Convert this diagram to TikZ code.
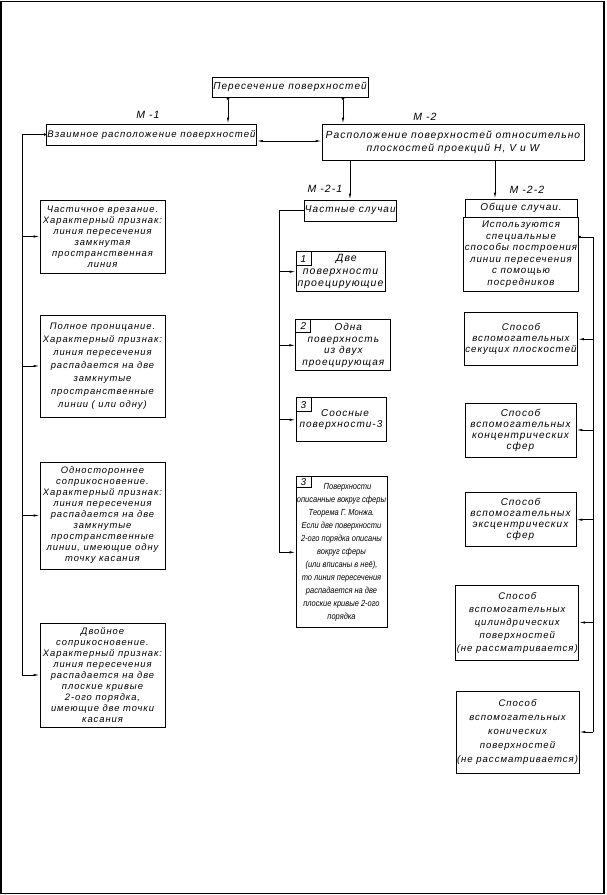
\documentclass[tikz,border=0pt]{standalone}
\usepackage{fontspec}
\setmainfont{Liberation Sans}[LetterSpace=10]
\usetikzlibrary{arrows.meta,calc}
\newcommand{\fsz}[2]{\itshape\fontsize{#1}{#2}\selectfont}
\begin{document}
\begin{tikzpicture}[x=1pt,y=-1pt,
  box/.style={draw, line width=0.8pt, inner sep=1pt, align=center, font=\fsz{10}{11}},
  lbox/.style={box, minimum width=125pt, font=\fsz{9.4}{11}},
  numcell/.style={draw, line width=0.8pt, inner sep=0pt, anchor=north west, minimum width=15pt, minimum height=14pt, font=\fsz{10}{11}},
  arr/.style={-{Latex[length=6pt,width=2.4pt]}, line width=0.8pt},
  dblarr/.style={{Latex[length=6pt,width=2.4pt]}-{Latex[length=6pt,width=2.4pt]}, line width=0.8pt},
  dotarr/.style={{Circle[length=2.6pt]}-{Latex[length=6pt,width=2.4pt]}, line width=0.8pt},
  dotline/.style={{Circle[length=2.6pt]}-, line width=0.8pt},
  trunk/.style={line width=0.8pt},
  lbl/.style={font=\fsz{10.5}{12}}
]
\useasboundingbox (0,0) rectangle (606,895);
\draw[line width=1.6pt] (1,1.5) rectangle (604.2,893.3);

% top level
\node[box, minimum width=156pt, minimum height=20pt] (title) at (290,87) {Пересечение поверхностей};
\node[box, minimum width=209pt, minimum height=21pt, font=\fsz{9.6}{11}] (a1) at (151.5,134.5) {Взаимное расположение поверхностей};
\node[box, minimum width=262pt, minimum height=36pt, font=\fsz{10.3}{13}] (a2) at (453,142) {Расположение поверхностей относительно\\плоскостей проекций  Н,  V  и  W};
\node[lbl] (la1) at (148,115) {М -1};
\node[lbl] (la2) at (425,117) {М -2};
\node[lbl] (lm) at (325,189) {М -2-1};
\node[lbl] (lr) at (527,190) {М -2-2};

\coordinate (c1) at (228,0);
\coordinate (c2) at (343,0);
\coordinate (c3) at (0,141);
\coordinate (c4) at (350,0);
\coordinate (c5) at (495,0);
\draw[dotarr] (title.south -| c1) -- (a1.north -| c1);
\draw[dotarr] (title.south -| c2) -- (a2.north -| c2);
\draw[dblarr] (a1.east |- c3) -- (a2.west |- c3);

% left column
\node[lbox, minimum height=73pt] (l1) at (102.5,236.5) {Частичное врезание.\\Характерный признак:\\линия пересечения\\замкнутая\\пространственная\\линия};
\node[lbox, minimum height=102pt, font=\fsz{9.4}{13}] (l2) at (102.5,366) {Полное проницание.\\Характерный признак:\\линия пересечения\\распадается на две\\замкнутые\\пространственные\\линии ( или одну)};
\node[lbox, minimum height=107pt] (l3) at (102.5,515.5) {Одностороннее\\соприкосновение.\\Характерный признак:\\линия пересечения\\распадается на две\\замкнутые\\пространственные\\линии, имеющие одну\\точку касания};
\node[lbox, minimum height=104pt] (l4) at (102.5,675) {Двойное\\соприкосновение.\\Характерный признак:\\линия пересечения\\распадается на две\\плоские кривые\\2-ого порядка,\\имеющие две точки\\касания};
\coordinate (lt) at (22,0);
\draw[dotline] (a1.west) -- (a1.west -| lt) -- (l4.west -| lt);
\foreach \n in {l1,l2,l3,l4} \draw[arr] (\n.west -| lt) -- (\n.west);

% middle column
\node[box, minimum width=85pt, minimum height=21pt] (mc) at (350.3,210.5) {Частные случаи};
\node[box, minimum width=89pt, minimum height=40pt, font=\fsz{10.5}{12.5}] (m1) at (340.5,271.7) {\hspace*{12pt}Две\\поверхности\\проецирующие};
\node[box, minimum width=95pt, minimum height=51pt, font=\fsz{10}{11.5}] (m2) at (343.3,345.3) {\hspace*{10pt}Одна\\поверхность\\из двух\\проецирующая};
\node[box, minimum width=90pt, minimum height=44pt] (m3) at (341,419.8) {\hspace*{8pt}Соосные\\поверхности-3};
\node[box, minimum width=91pt, minimum height=151pt, font={\fsz{8.8}{13}\addfontfeatures{FakeStretch=0.85,LetterSpace=0}}] (m4) at (341.5,552.3) {\hspace*{12pt}Поверхности\\описанные вокруг сферы\\Теорема Г. Монжа.\\Если две поверхности\\2-ого порядка описаны\\вокруг сферы\\(или вписаны в неё),\\то линия пересечения\\распадается на две\\плоские кривые 2-ого\\порядка};
\node[numcell] (n1) at (m1.north west) {1};
\node[numcell, minimum height=13pt] (n2) at (m2.north west) {2};
\node[numcell] (n3) at (m3.north west) {3};
\node[numcell, minimum height=11pt] (n4) at (m4.north west) {3};
\draw[arr] (a2.south -| c4) -- (mc.north -| c4);
\coordinate (mt) at (279,0);
\draw[trunk] (mc.west) -- (mc.west -| mt) -- (m4.west -| mt);
\foreach \n in {m1,m2,m3,m4} \draw[arr] (\n.west -| mt) -- (\n.west);

% right column
\node[box, minimum width=112pt, minimum height=18pt] (rh) at (521,208) {Общие случаи.};
\node[box, minimum width=112pt, minimum height=74pt, font=\fsz{9.7}{11.5}] (rb) at (521,254) {Используются\\специальные\\способы построения\\линии пересечения\\с помощью\\посредников};
\node[box, minimum width=112pt, minimum height=53pt, font=\fsz{9.7}{11}] (r1) at (521,339.2) {Способ\\вспомогательных\\секущих плоскостей};
\node[box, minimum width=111pt, minimum height=54pt] (r2) at (520.5,430) {Способ\\вспомогательных\\концентрических\\сфер};
\node[box, minimum width=111pt, minimum height=54pt] (r3) at (520.5,519.7) {Способ\\вспомогательных\\эксцентрических\\сфер};
\node[box, minimum width=119pt, minimum height=75pt, font=\fsz{9.6}{13}] (r4) at (517.3,622.5) {Способ\\вспомогательных\\цилиндрических\\поверхностей\\(не рассматривается)};
\node[box, minimum width=119pt, minimum height=82pt, font=\fsz{9.6}{14}] (r5) at (517.5,732) {Способ\\вспомогательных\\конических\\поверхностей\\(не рассматривается)};
\draw[arr] (a2.south -| c5) -- (rh.north -| c5);
\coordinate (rt) at (593,237);
\draw[dotline] (rb.east |- rt) -- (rt) -- (r5.east -| rt);
\foreach \n in {r1,r2,r3,r4,r5} \draw[arr] (\n.east -| rt) -- (\n.east);
\end{tikzpicture}
\end{document}
